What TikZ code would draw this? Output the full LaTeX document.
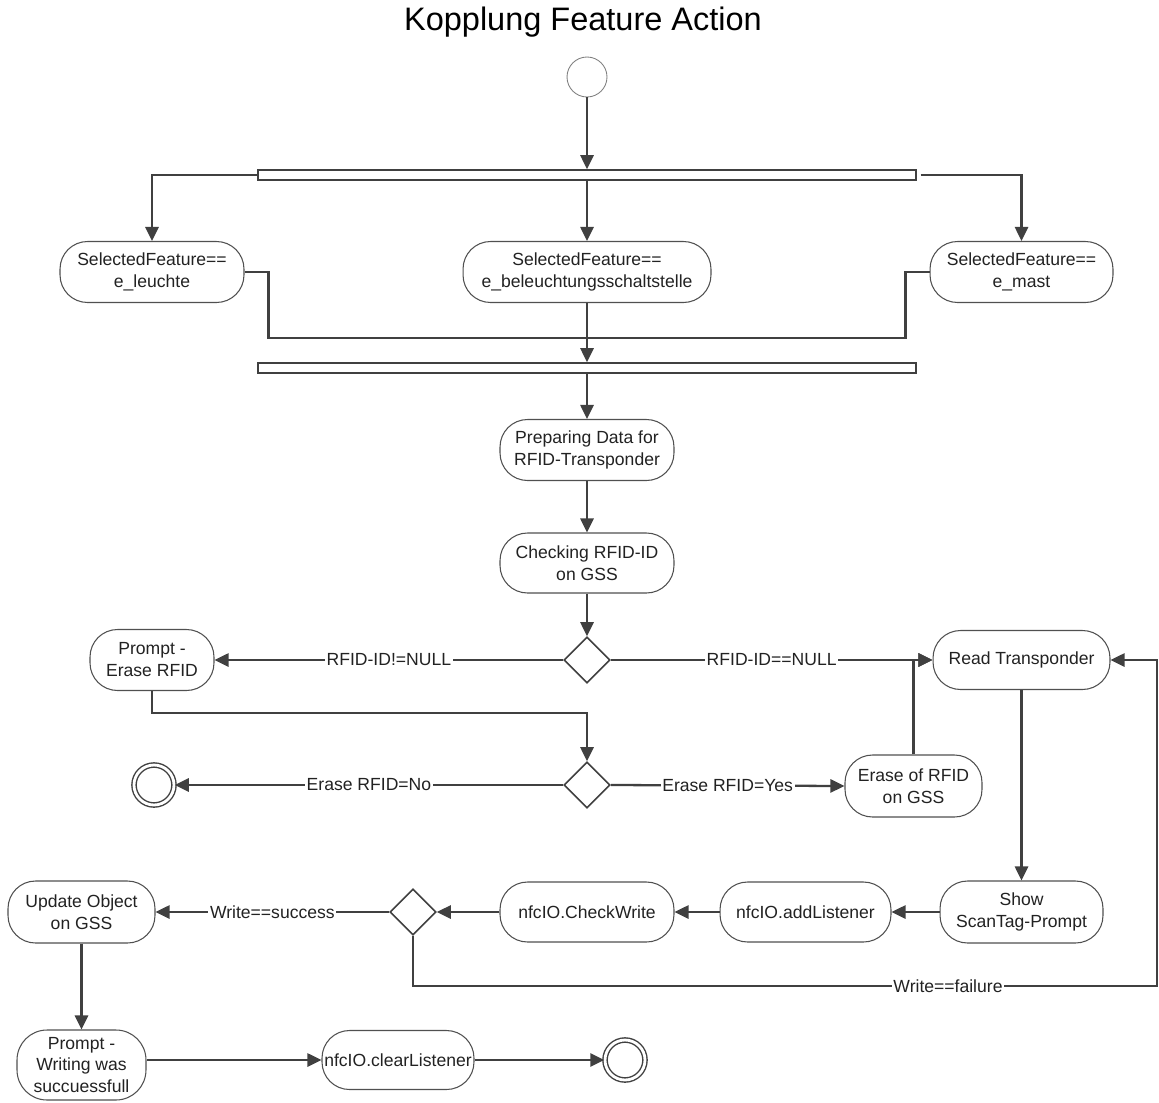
\documentclass[tikz,border=0pt]{standalone}
\usepackage{fontspec}
\setmainfont{Liberation Sans}
\usetikzlibrary{arrows.meta,shapes.geometric}
\definecolor{ln}{HTML}{404040}
\definecolor{bd}{HTML}{505050}
\definecolor{tx}{HTML}{222222}
\begin{document}
\begin{tikzpicture}[x=0.02cm,y=-0.02cm,
  every node/.style={font=\fontsize{10pt}{12.5pt}\selectfont, text=tx},
  act/.style={draw=bd, line width=0.6pt, rounded corners=0.55cm, align=center, minimum height=1.22cm, inner sep=0pt, fill=white},
  bar/.style={draw=ln, line width=0.9pt, fill=white, minimum width=13.16cm, minimum height=0.2cm, inner sep=0pt},
  dec/.style={draw=ln, line width=0.9pt, diamond, aspect=1, minimum width=0.92cm, minimum height=0.92cm, inner sep=0pt, fill=white},
  startnode/.style={draw=gray, line width=0.5pt, circle, minimum size=0.8cm, inner sep=0pt},
  endnode/.style={draw=ln, line width=0.8pt, circle, minimum size=0.8cm, inner sep=0pt, double=white, double distance=1.6pt},
  conn/.style={draw=ln, line width=1.3pt},
  arr/.style={conn, -{Triangle[length=8pt,width=7.5pt]}},
  lbl/.style={fill=white, inner sep=1pt}
]
\useasboundingbox (0,0) rectangle (1159,1102);

\node[font=\fontsize{18.5pt}{22pt}\selectfont, text=black] (title) at (583,22) {Kopplung Feature Action};

\node[startnode] (start) at (587,77) {};
\node[bar] (fork1) at (587,175) {};
\node[act, minimum width=3.68cm] (n1) at (152,272) {SelectedFeature==\\e\_leuchte};
\node[act, minimum width=4.96cm] (n2) at (587,272) {SelectedFeature==\\e\_beleuchtungsschaltstelle};
\node[act, minimum width=3.66cm] (n3) at (1021.5,272) {SelectedFeature==\\e\_mast};
\coordinate (j1) at (587,338);
\node[bar] (fork2) at (587,368) {};
\node[act, minimum width=3.48cm] (prep) at (587,450) {Preparing Data for\\RFID-Transponder};
\node[act, minimum width=3.48cm, minimum height=1.2cm] (check) at (587,563) {Checking RFID-ID\\on GSS};
\node[dec] (d1) at (587,660) {};
\node[act, minimum width=2.48cm] (perase) at (152,660) {Prompt -\\Erase RFID};
\node[act, minimum width=3.54cm, minimum height=1.18cm] (read) at (1021.5,660) {Read Transponder};
\coordinate (c2) at (587,713);
\node[dec] (d2) at (587,785) {};
\node[endnode] (end1) at (154,785) {};
\node[act, minimum width=2.74cm, minimum height=1.24cm] (erase) at (913.5,786) {Erase of RFID\\on GSS};
\node[act, minimum width=3.26cm, minimum height=1.24cm] (show) at (1021.5,912) {Show\\ScanTag-Prompt};
\node[act, minimum width=3.42cm, minimum height=1.2cm] (addl) at (805.5,912) {nfcIO.addListener};
\node[act, minimum width=3.48cm, minimum height=1.2cm] (checkw) at (587,912) {nfcIO.CheckWrite};
\node[dec] (d3) at (413,912) {};
\node[act, minimum width=2.94cm, minimum height=1.24cm] (update) at (81.5,912) {Update Object\\on GSS};
\coordinate (fr) at (1157,986);
\node[act, minimum width=2.58cm, minimum height=1.4cm, rounded corners=0.6cm] (pwrite) at (81.5,1065) {Prompt -\\Writing was\\succuessfull};
\node[act, minimum width=3.04cm, minimum height=1.18cm] (clear) at (398,1060) {nfcIO.clearListener};
\node[endnode] (end2) at (625,1060) {};

% connectors
\draw[arr] (start) -- (fork1);
\draw[arr] (fork1.west) -| (n1.north);
\draw[arr] (fork1) -- (n2);
\draw[arr] ([xshift=0.08cm]fork1.east) -| (n3.north);
\draw[conn] (n1.east) -- ++(24,0) |- (j1);
\draw[conn] (n3.west) -- ++(-24,0) |- (j1);
\draw[arr] (n2) -- (fork2);
\draw[arr] (fork2) -- (prep);
\draw[arr] (prep) -- (check);
\draw[arr] (check) -- (d1);
\draw[arr] (d1.west) -- node[lbl] {RFID-ID!=NULL} (perase.east);
\draw[arr] (d1.east) -- node[lbl] {RFID-ID==NULL} (read.west);
\draw[arr] (perase.south) |- (c2) -- (d2.north);
\draw[arr] (d2.west) -- node[lbl] {Erase RFID=No} (end1.east);
\draw[arr] (d2.east) -- node[lbl] {Erase RFID=Yes} (erase.west);
\draw[arr] (erase.north) |- (read.west);
\draw[arr] (read.south) -- (show.north);
\draw[arr] (show) -- (addl);
\draw[arr] (addl) -- (checkw);
\draw[arr] (checkw) -- (d3.east);
\draw[arr] (d3.west) -- node[lbl] {Write==success} (update.east);
\draw[arr] (d3.south) |- (fr) |- (read.east);
\node[lbl] (wf) at (948,986) {Write==failure};
\draw[arr] (update) -- (pwrite);
\draw[arr] (pwrite.east |- clear.west) -- (clear.west);
\draw[arr] (clear) -- (end2);
\end{tikzpicture}
\end{document}
